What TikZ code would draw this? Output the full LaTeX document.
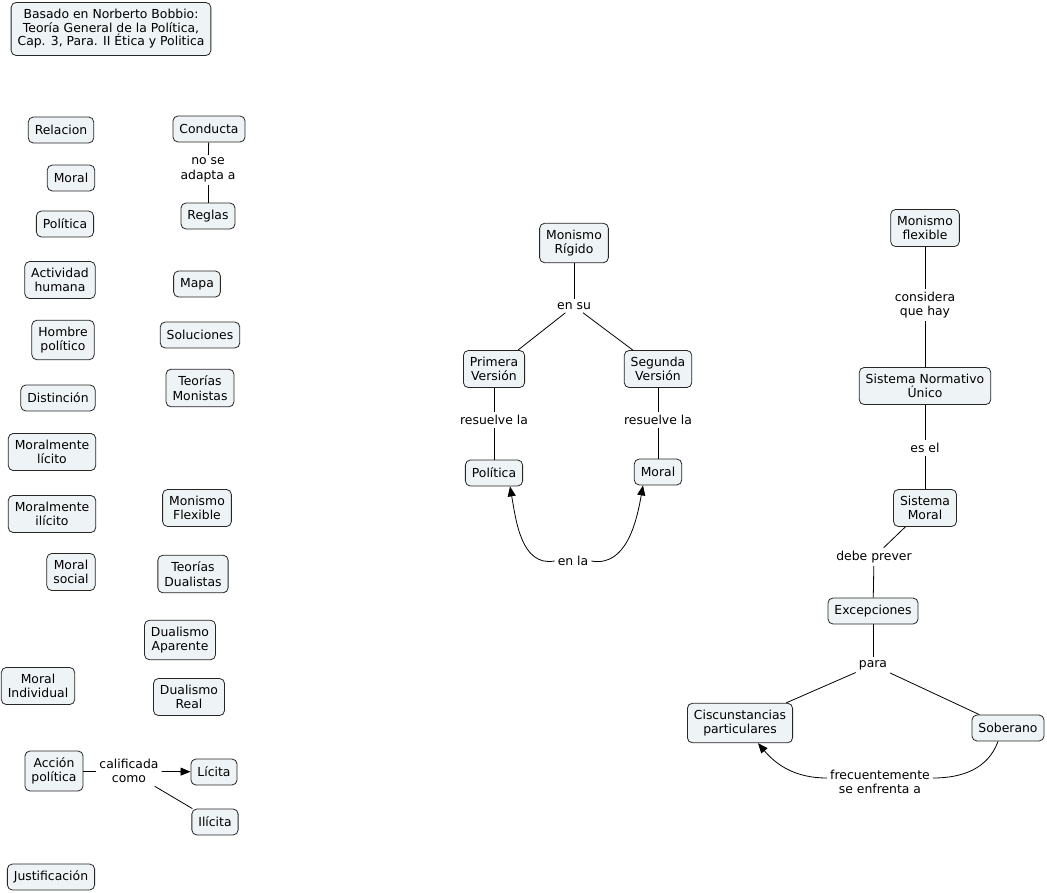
\documentclass[tikz,border=0pt]{standalone}
\usepackage{fontspec}
\setmainfont{DejaVu Sans}
\usetikzlibrary{arrows.meta}
\definecolor{boxfill}{HTML}{EEF3F5}
\begin{document}
\begin{tikzpicture}[x=1pt, y=1pt,
  font=\fontsize{12.4}{14.5}\selectfont,
  concept/.style={draw=black!85, line width=0.8pt, fill=boxfill, rounded corners=5pt,
    align=center, inner xsep=6.5pt, inner ysep=6.5pt, minimum height=26pt},
  linkword/.style={align=center, inner sep=3pt},
  link/.style={draw=black, line width=0.8pt},
  arrowlink/.style={link, -{Triangle[length=10pt,width=8pt]}}]
\useasboundingbox (0,0) rectangle (1047,-892);

% title
\node[concept, inner ysep=7pt, font=\fontsize{12.4}{13.5}\selectfont] (titulo) at (111,-29)
  {Basado en Norberto Bobbio:\\Teoría General de la Política,\\Cap. 3, Para. II Ética y Politica};

% left column
\node[concept] (relacion) at (61,-130) {Relacion};
\node[concept] (moral1) at (71,-178) {Moral};
\node[concept] (politica1) at (65,-224) {Política};
\node[concept] (actividad) at (60,-280) {Actividad\\humana};
\node[concept] (hombre) at (63,-340) {Hombre\\político};
\node[concept] (distincion) at (58,-398) {Distinción};
\node[concept] (mlicito) at (52,-452) {Moralmente\\lícito};
\node[concept] (milicito) at (52,-514) {Moralmente\\ilícito};
\node[concept] (msocial) at (71,-572) {Moral\\social};
\node[concept] (mindividual) at (38,-686) {Moral\\Individual};
\node[concept] (accion) at (54,-771) {Acción\\política};
\node[concept] (justificacion) at (51,-877) {Justificación};

% second column
\node[concept] (conducta) at (209,-129) {Conducta};
\node[linkword] (noadapta) at (208,-170) {no se\\adapta a};
\node[concept] (reglas) at (208,-216) {Reglas};
\node[concept] (mapa) at (197,-284) {Mapa};
\node[concept] (soluciones) at (200,-335) {Soluciones};
\node[concept] (tmonistas) at (200,-388) {Teorías\\Monistas};
\node[concept] (mflexible1) at (197,-508) {Monismo\\Flexible};
\node[concept] (tdualistas) at (193,-574) {Teorías\\Dualistas};
\node[concept] (daparente) at (180,-640) {Dualismo\\Aparente};
\node[concept] (dreal) at (189,-697) {Dualismo\\Real};
\node[linkword] (calificada) at (129,-771) {calificada\\como};
\node[concept] (licita) at (214,-772) {Lícita};
\node[concept] (ilicita) at (215,-822) {Ilícita};

\draw[link] (conducta) -- (noadapta);
\draw[link] (noadapta) -- (reglas);
\draw[link] (accion) -- (calificada);
\draw[arrowlink] (calificada) -- (licita);
\draw[link] (calificada) -- (ilicita);

% monismo rigido
\node[concept] (mrigido) at (574,-243) {Monismo\\Rígido};
\node[linkword] (ensu) at (574,-306) {en su};
\node[concept] (primera) at (494,-369) {Primera\\Versión};
\node[concept] (segunda) at (658,-369) {Segunda\\Versión};
\node[linkword] (resuelve1) at (494,-420) {resuelve la};
\node[linkword] (resuelve2) at (658,-420) {resuelve la};
\node[concept] (politica2) at (494,-473) {Política};
\node[concept] (moral2) at (658,-472) {Moral};
\node[linkword] (enla) at (573,-561) {en la};

\draw[link] (mrigido) -- (ensu);
\draw[link] (ensu) -- (primera);
\draw[link] (ensu) -- (segunda);
\draw[link] (primera) -- (resuelve1);
\draw[link] (resuelve1) -- (politica2);
\draw[link] (segunda) -- (resuelve2);
\draw[link] (resuelve2) -- (moral2);
\draw[arrowlink] (enla.west) to[out=190, in=-80] ([xshift=16pt]politica2.south);
\draw[arrowlink] (enla.east) to[out=-10, in=-100] ([xshift=-15pt]moral2.south);

% monismo flexible
\node[concept] (mflexible2) at (925,-228) {Monismo\\flexible};
\node[linkword] (considera) at (925,-305) {considera\\que hay};
\node[concept] (sistnorm) at (925,-386) {Sistema Normativo\\Único};
\node[linkword] (esel) at (925,-448) {es el};
\node[concept] (sistmoral) at (925,-508) {Sistema\\Moral};
\node[linkword] (debe) at (874,-557) {debe prever};
\node[concept] (excepciones) at (873,-611) {Excepciones};
\node[linkword] (para) at (873,-665) {para};
\node[concept] (circunst) at (740,-723) {Ciscunstancias\\particulares};
\node[concept] (soberano) at (1008,-728) {Soberano};
\node[linkword] (frecuente) at (880,-782) {frecuentemente\\se enfrenta a};

\draw[link] (mflexible2) -- (considera);
\draw[link] (considera) -- (sistnorm);
\draw[link] (sistnorm) -- (esel);
\draw[link] (esel) -- (sistmoral);
\draw[link] (sistmoral) -- (debe);
\draw[link] (debe) -- (excepciones);
\draw[link] (excepciones) -- (para);
\draw[link] (para) -- (circunst);
\draw[link] (para) -- (soberano);
\draw[link] ([xshift=-10pt]soberano.south) to[out=-110, in=0] ([yshift=4pt]frecuente.east);
\draw[arrowlink] ([yshift=4pt]frecuente.west) to[out=180, in=-50] ([xshift=18pt]circunst.south);
\end{tikzpicture}
\end{document}
